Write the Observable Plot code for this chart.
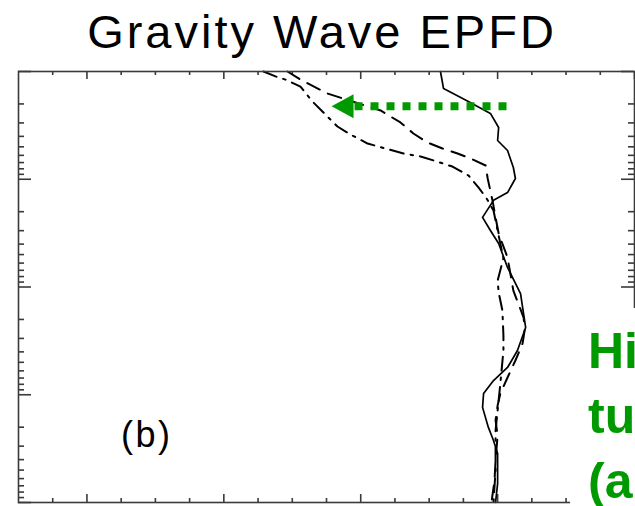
<!DOCTYPE html>
<html><head><meta charset="utf-8">
<script src="https://cdn.jsdelivr.net/npm/d3@7"></script>
<script src="https://cdn.jsdelivr.net/npm/@observablehq/plot@0.6"></script>
<style>
body{margin:0;background:#fff;}
#wrap{position:relative;width:635px;height:506px;overflow:hidden;}
</style>
</head><body><div id="wrap"></div>
<script>
// ---- data (EPFD value vs pressure, log scale, pressure increasing downward) ----
const solidX = [-1.67,-1.58,-0.91,-0.21,0.03,0.0,0.29,0.46,0.52,0.29,-0.12,-0.44,-0.21,0.03,0.29,0.67,0.82,0.58,0.29,-0.12,-0.41,-0.44,-0.27,-0.12,0.0,0.0,-0.06];
const solidP = [0.1,0.144,0.186,0.245,0.331,0.437,0.541,0.778,0.984,1.33,1.57,2.26,2.99,3.95,6.59,11.5,23.8,38.8,55.8,73.8,97.3,131,201,266,351,667,1000];

const dashedX = [-6.14,-5.76,-4.97,-4.15,-3.42,-2.84,-2.46,-2.05,-1.61,-1.17,-0.79,-0.35,-0.29,-0.15,-0.06,0.03,0.29,0.46,0.76,0.79,0.73,0.52,0.29,0.08,0.0,-0.06,0.0,-0.06,-0.09,-0.18];
const dashedP = [0.1,0.119,0.16,0.194,0.23,0.297,0.376,0.456,0.518,0.577,0.642,0.745,0.984,1.57,2.26,3.19,5.32,10.8,19.2,25.3,33.4,48.1,69.2,97.3,126,173,239,407,625,1000];

const dashdotX = [-6.84,-6.49,-6.2,-5.76,-5.41,-5.03,-4.68,-4.3,-3.8,-3.28,-2.75,-2.25,-1.87,-1.32,-0.85,-0.56,-0.32,-0.12,0.0,0.17,0.0,0.03,0.14,0.17,0.17,0.08,0.03,-0.06,-0.06,-0.12];
const dashdotP = [0.1,0.111,0.119,0.138,0.19,0.251,0.324,0.384,0.466,0.518,0.577,0.615,0.67,0.762,0.923,1.19,1.51,1.95,2.99,5.43,8.71,11.2,16.5,28.2,38.8,78.7,113,215,505,1000];

// ---- ticks ----
const yMajorTicks = [0.1, 1, 10, 100, 1000];
const yMinorMultipliers = [2,3,4,5,6,7,8,9];
const yMinorTicks = yMajorTicks.slice(0, -1).flatMap(d => yMinorMultipliers.map(m => d * m));
const xMajorTicks = [-12, -8, -4, 0, 4];
const xMinorTicks = [-13,-11,-10,-9,-7,-6,-5,-3,-2,-1,1,2,3];

// ---- texts ----
const titleText = "Gravity Wave EPFD";
const panelLabel = "(b)";
const sideLines = ["Hi", "tu", "(a"];

// arrow annotation (data units)
const arrowP = 0.21, arrowTail = 0.26, arrowShaftEnd = -4.18, arrowHeadX = -4.53;

const toRows = (xs, ps) => xs.map((x, i) => ({x, p: ps[i]}));
const solid = toRows(solidX, solidP);
const dashed = toRows(dashedX, dashedP);
const dashdot = toRows(dashdotX, dashdotP);

const W = 635, H = 506, mT = 71, mB = 4, mL = 18, mR = 1;
const plotW = W - mL - mR, plotH = H - mT - mB;
const green = "#009a00", axisC = "#3a3a3a";

const leftTriangle = {draw(ctx) { ctx.moveTo(-11, 0); ctx.lineTo(11, -12); ctx.lineTo(11, 12); ctx.closePath(); }};

const tickOpts = {stroke: axisC, strokeWidth: 1.6};
const chart = Plot.plot({
  width: W, height: H,
  marginTop: mT, marginBottom: mB, marginLeft: mL, marginRight: mR,
  style: {background: "#fff"},
  x: {domain: [-14, 4], axis: null},
  y: {type: "log", domain: [0.1, 1000], reverse: true, axis: null},
  marks: [
    // left / right y ticks
    Plot.tickY(yMinorTicks, {y: d => d, insetRight: plotW - 6, ...tickOpts}),
    Plot.tickY(yMajorTicks, {y: d => d, insetRight: plotW - 13, ...tickOpts}),
    Plot.tickY(yMinorTicks, {y: d => d, insetLeft: plotW - 6, ...tickOpts}),
    Plot.tickY(yMajorTicks, {y: d => d, insetLeft: plotW - 13, ...tickOpts}),
    // top / bottom x ticks
    Plot.tickX(xMinorTicks, {x: d => d, insetBottom: plotH - 4, ...tickOpts}),
    Plot.tickX(xMajorTicks, {x: d => d, insetBottom: plotH - 8, ...tickOpts}),
    Plot.tickX(xMinorTicks, {x: d => d, insetTop: plotH - 4, ...tickOpts}),
    Plot.tickX(xMajorTicks, {x: d => d, insetTop: plotH - 8, ...tickOpts}),
    // profiles
    Plot.line(solid, {x: "x", y: "p", stroke: "#000", strokeWidth: 1.7, strokeLinejoin: "round"}),
    Plot.line(dashed, {x: "x", y: "p", stroke: "#000", strokeWidth: 2, strokeDasharray: "14,9"}),
    Plot.line(dashdot, {x: "x", y: "p", stroke: "#000", strokeWidth: 2, strokeDasharray: "14,7,2.5,7"}),
    // green dotted arrow
    Plot.line([{x: arrowTail, p: arrowP}, {x: arrowShaftEnd, p: arrowP}], {x: "x", y: "p", stroke: green, strokeWidth: 8, strokeDasharray: "8,8", strokeLinecap: "butt"}),
    Plot.dot([{x: arrowHeadX, p: arrowP}], {x: "x", y: "p", symbol: leftTriangle, fill: green, stroke: "none", r: 10}),
    Plot.frame({stroke: axisC, strokeWidth: 1.6})
  ]
});

document.getElementById("wrap").appendChild(chart);

const svg = d3.select(chart);
const font = "'Liberation Sans', Arial, Helvetica, sans-serif";

svg.append("text")
  .attr("x", 322).attr("y", 48)
  .attr("text-anchor", "middle")
  .attr("font-family", font).attr("font-size", 47).attr("letter-spacing", 3)
  .attr("fill", "#000")
  .text(titleText);

svg.append("text")
  .attr("x", 121).attr("y", 447)
  .attr("text-anchor", "start")
  .attr("font-family", font).attr("font-size", 36).attr("letter-spacing", 2.5)
  .attr("fill", "#000")
  .text(panelLabel);

// white box with green text, clipped by the window on the right
svg.append("rect").attr("x", 570).attr("y", 308).attr("width", 70).attr("height", 200).attr("fill", "#fff");
const gt = svg.append("g").attr("text-anchor", "start").attr("font-family", font).attr("font-weight", "bold").attr("font-size", 50).attr("fill", green);
sideLines.forEach((s, i) => {
  gt.append("text").attr("x", 588).attr("y", 368 + i * 65).text(s);
});
</script>
</body></html>
